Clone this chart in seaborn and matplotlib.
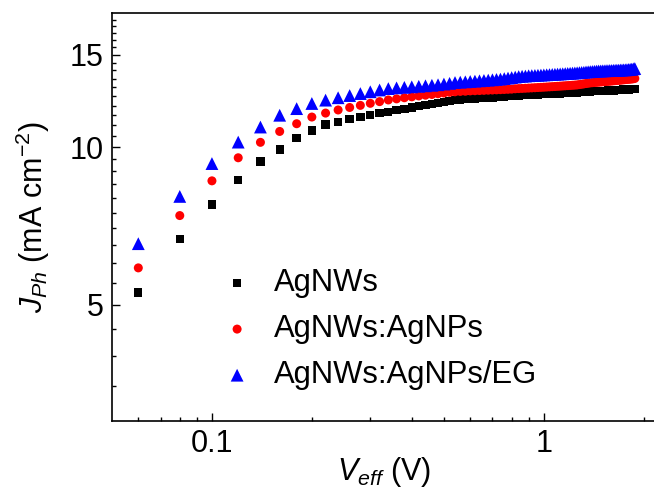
import numpy as np
import matplotlib
matplotlib.use('Agg')
import matplotlib.pyplot as plt
import seaborn as sns

# effective voltage grid (V), 0.06 .. 1.88 in 0.02 steps
v_eff = np.round(np.arange(0.06, 1.8801, 0.02), 2)

# photocurrent density (mA cm-2)
j_agnws = [5.28, 6.68, 7.77, 8.64, 9.39, 9.90, 10.40, 10.76, 11.04,
           11.18, 11.30, 11.40, 11.50, 11.60, 11.68,
           11.76, 11.83, 11.90, 11.96, 12.02, 12.08, 12.14, 12.20, 12.26, 12.30,
           12.32, 12.34, 12.36, 12.37, 12.39, 12.40, 12.42, 12.43, 12.45, 12.47,
           12.48, 12.50, 12.52, 12.54, 12.55,
           12.56, 12.57, 12.58, 12.59, 12.60, 12.60, 12.61, 12.62, 12.63, 12.64,
           12.64, 12.65, 12.66, 12.66, 12.67, 12.68, 12.68, 12.69, 12.70, 12.71,
           12.71, 12.72, 12.73, 12.74, 12.75,
           12.76, 12.77, 12.78, 12.78, 12.79, 12.79, 12.80, 12.80, 12.81, 12.81,
           12.82, 12.82, 12.83, 12.83, 12.84, 12.84, 12.85, 12.86, 12.86, 12.87,
           12.87, 12.88, 12.88, 12.89, 12.89, 12.90, 12.90]
j_agnps = [5.88, 7.40, 8.62, 9.54, 10.21, 10.71, 11.08, 11.41, 11.61,
           11.77, 11.90, 12.01, 12.12, 12.21, 12.30,
           12.36, 12.42, 12.47, 12.52, 12.56, 12.60, 12.64, 12.68, 12.72, 12.75,
           12.77, 12.78, 12.80, 12.81, 12.82, 12.83, 12.84, 12.85, 12.86, 12.87,
           12.88, 12.89, 12.90, 12.92, 12.93,
           12.94, 12.95, 12.96, 12.97, 12.98, 12.99, 13.00, 13.01, 13.02, 13.03,
           13.04, 13.05, 13.06, 13.07, 13.08, 13.09, 13.10, 13.11, 13.12, 13.13,
           13.14, 13.16, 13.18, 13.20, 13.22,
           13.24, 13.26, 13.27, 13.28, 13.29, 13.30, 13.31, 13.32, 13.33, 13.34,
           13.35, 13.36, 13.37, 13.38, 13.39, 13.40, 13.41, 13.42, 13.43, 13.44,
           13.45, 13.46, 13.47, 13.48, 13.49, 13.50, 13.52]
j_agnps_eg = [6.54, 8.05, 9.30, 10.22, 10.92, 11.50, 11.84, 12.11, 12.29,
              12.42, 12.54, 12.65, 12.75, 12.85, 12.93,
              12.97, 13.00, 13.03, 13.06, 13.09, 13.12, 13.15, 13.19, 13.23, 13.28,
              13.30, 13.32, 13.34, 13.36, 13.38, 13.40, 13.42, 13.44, 13.46, 13.48,
              13.51, 13.54, 13.57, 13.60, 13.63,
              13.65, 13.66, 13.68, 13.69, 13.70, 13.71, 13.72, 13.73, 13.74, 13.75,
              13.76, 13.77, 13.78, 13.79, 13.80, 13.81, 13.82, 13.83, 13.84, 13.85,
              13.86, 13.87, 13.88, 13.89, 13.91,
              13.92, 13.93, 13.94, 13.95, 13.96, 13.97, 13.97, 13.98, 13.98, 13.99,
              13.99, 14.00, 14.00, 14.01, 14.01, 14.02, 14.02, 14.03, 14.03, 14.04,
              14.04, 14.05, 14.06, 14.07, 14.08, 14.10, 14.12]

labels = ['AgNWs', 'AgNWs:AgNPs', 'AgNWs:AgNPs/EG']
colors = ['#000000', '#ff0000', '#0000ff']
markers = ['s', 'o', '^']
sizes = [36, 42, 85]

sns.set_style('ticks')
plt.rcParams['font.family'] = ['Liberation Sans', 'DejaVu Sans']
plt.rcParams['mathtext.fontset'] = 'custom'
plt.rcParams['mathtext.rm'] = 'Liberation Sans'
plt.rcParams['mathtext.it'] = 'Liberation Sans:italic'
plt.rcParams['text.color'] = 'black'
plt.rcParams['axes.labelcolor'] = 'black'
plt.rcParams['axes.edgecolor'] = 'black'
plt.rcParams['xtick.color'] = 'black'
plt.rcParams['ytick.color'] = 'black'

fig = plt.figure(figsize=(6.54, 4.95), dpi=100)
ax = fig.add_axes([0.1713, 0.1495, 0.832, 0.8236])

for ys, lab, c, m, s in zip([j_agnws, j_agnps, j_agnps_eg], labels, colors, markers, sizes):
    sns.scatterplot(x=v_eff, y=ys, ax=ax, marker=m, s=s, color=c,
                    edgecolor='none', linewidth=0, label=lab)

ax.set_xscale('log')
ax.set_yscale('log')
ax.set_xlim(0.05, 2.18)
ax.set_ylim(3, 18)

ax.set_xticks([0.1, 1], labels=['0.1', '1'])
ax.set_xticks([0.06, 0.07, 0.08, 0.09, 0.2, 0.3, 0.4, 0.5, 0.6, 0.7, 0.8, 0.9, 2],
              minor=True)
ax.set_xticklabels([], minor=True)
ax.set_yticks([5, 10, 15], labels=['5', '10', '15'])
ax.set_yticks([3.5, 4, 4.5, 5.5, 6, 6.5, 7, 7.5, 8, 8.5, 9, 9.5, 10.5, 11, 11.5,
               12, 12.5, 13, 13.5, 14, 14.5, 15.5, 16, 16.5, 17, 17.5], minor=True)
ax.set_yticklabels([], minor=True)

ax.tick_params(which='both', direction='in', width=1.0, labelsize=22, pad=6)
ax.tick_params(which='major', length=6)
ax.tick_params(which='minor', length=3)

for side in ['left', 'bottom', 'top']:
    ax.spines[side].set_linewidth(1.2)
ax.spines['right'].set_visible(False)

ax.set_xlabel('$V_{eff}$ (V)', fontsize=22, labelpad=-3)
ax.set_ylabel('$J_{Ph}$ (mA cm$^{-2}$)', fontsize=22)
ax.yaxis.set_label_coords(-0.11, 0.5)

ax.legend(frameon=False, loc='upper left', bbox_to_anchor=(0.2014, 0.375),
          borderpad=0, borderaxespad=0, handlelength=1.0, handletextpad=0.7,
          labelspacing=0.52, fontsize=22.3)

fig.savefig('out.png', dpi=100)
